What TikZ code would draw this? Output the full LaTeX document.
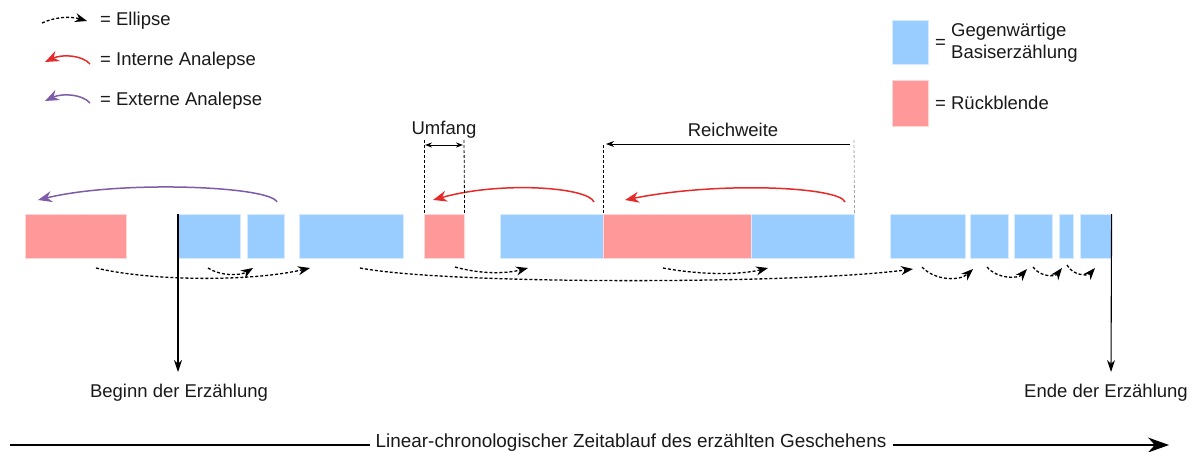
\documentclass[tikz,border=0pt]{standalone}
\usepackage{fontspec}
\setmainfont{Liberation Sans}
\usetikzlibrary{arrows.meta}
\definecolor{barblue}{HTML}{99CCFF}
\definecolor{barred}{HTML}{FF9999}
\definecolor{arrred}{HTML}{E62A2A}
\definecolor{arrpurple}{HTML}{7E5CA8}
\begin{document}
\begin{tikzpicture}[x=1pt,y=-1pt,
  every node/.style={font=\fontsize{18.5}{22}\selectfont, text=black!90},
  bar/.style={rectangle, inner sep=0pt, minimum height=44pt, anchor=north west, draw=white!70!barblue, line width=0.6pt},
  bluebar/.style={bar, fill=barblue, draw=white!60!barblue},
  redbar/.style={bar, fill=barred, draw=white!60!barred},
  ell/.style={densely dashed, line width=1.3pt, -{Stealth[length=12pt,width=9pt]}},
  intana/.style={arrred, line width=1.5pt, -{Stealth[length=14pt,width=11pt]}},
  extana/.style={arrpurple, line width=1.5pt, -{Stealth[length=14pt,width=11pt]}},
  guide/.style={densely dashed, line width=0.8pt},
  thinarrow/.style={line width=0.9pt, -{Stealth[length=8pt,width=6pt]}},
  lbl/.style={inner sep=0pt}
]
\useasboundingbox (0,0) rectangle (1200,452);

% ---------- legend ----------
\coordinate (le1s) at (42,23);  \coordinate (le1e) at (87,21);
\draw[ell] (le1s) .. controls (55,17) and (70,16) .. (le1e);
\node[lbl, anchor=west] (lt1) at (100,21) {= Ellipse};
\coordinate (le2s) at (90,64);  \coordinate (le2e) at (45,62);
\draw[intana] (le2s) .. controls (82,55) and (62,54) .. (le2e);
\node[lbl, anchor=west] (lt2) at (100,61) {= Interne Analepse};
\coordinate (le3s) at (90,103); \coordinate (le3e) at (45,101);
\draw[extana] (le3s) .. controls (82,94) and (62,93) .. (le3e);
\node[lbl, anchor=west] (lt3) at (100,101) {= Externe Analepse};

\node[bluebar, minimum width=36pt, minimum height=44pt] (lgb) at (892,20) {};
\node[lbl, anchor=west] (lgbeq) at (935,44) {=};
\node[lbl, anchor=west, align=left] (lgbt) at (951,43) {Gegenwärtige\\Basiserzählung};
\node[redbar, minimum width=36pt, minimum height=46pt] (lgr) at (892,80) {};
\node[lbl, anchor=west] (lgrt) at (935,103) {= Rückblende};

% ---------- bars ----------
\node[redbar,  minimum width=101pt] (r1) at (25,214) {};
\node[bluebar, minimum width=62pt]  (b1) at (178,214) {};
\node[bluebar, minimum width=37pt]  (b2) at (247,214) {};
\node[bluebar, minimum width=104pt] (b3) at (299,214) {};
\node[redbar,  minimum width=40pt]  (r2) at (424,214) {};
\node[bluebar, minimum width=103pt] (b4) at (500,214) {};
\node[redbar,  minimum width=148pt] (r3) at (603,214) {};
\node[bluebar, minimum width=103pt] (b5) at (751,214) {};
\node[bluebar, minimum width=75pt]  (b6) at (890,214) {};
\node[bluebar, minimum width=38pt]  (b7) at (970,214) {};
\node[bluebar, minimum width=38pt]  (b8) at (1014,214) {};
\node[bluebar, minimum width=14pt]  (b9) at (1059,214) {};
\node[bluebar, minimum width=31pt]  (b10) at (1080,214) {};

% ---------- analepses ----------
\coordinate (pa) at (277,202); \coordinate (pb) at (38,200);
\draw[extana] (pa) .. controls (270,186) and (120,180) .. (pb);
\coordinate (ra) at (594,202); \coordinate (rb) at (433,200);
\draw[intana] (ra) .. controls (588,187) and (500,181) .. (rb);
\coordinate (rc) at (845,202); \coordinate (rd) at (625,200);
\draw[intana] (rc) .. controls (840,187) and (720,181) .. (rd);

% ---------- Umfang / Reichweite ----------
\coordinate (u1) at (424,140); \coordinate (u2) at (464,140);
\draw[guide] (u1) -- (r2.north west);
\draw[guide] (u2) -- (r2.north east);
\coordinate (ua) at (425,145); \coordinate (ub) at (463,145);
\draw[line width=0.9pt, {Stealth[length=7pt,width=5pt]}-{Stealth[length=7pt,width=5pt]}] (ua) -- (ub);
\node[lbl] (umf) at (444,130) {Umfang};

\coordinate (w1) at (603,145); \coordinate (w2) at (854,140);
\draw[guide] (w1) -- (r3.north west);
\draw[guide, black!35] (w2) -- (b5.north east);
\coordinate (wa) at (850,144); \coordinate (wb) at (606,144);
\draw[thinarrow] (wa) -- (wb);
\node[lbl] (rw) at (733,130) {Reichweite};

% ---------- ellipses ----------
\coordinate (e1s) at (96,268);   \coordinate (e1e) at (310,268);
\draw[ell] (e1s) .. controls (150,281) and (250,282) .. (e1e);
\coordinate (e2s) at (208,268);  \coordinate (e2e) at (253,268);
\draw[ell] (e2s) .. controls (220,276) and (240,276) .. (e2e);
\coordinate (e3s) at (360,268);  \coordinate (e3e) at (913,269);
\draw[ell] (e3s) .. controls (450,285) and (800,284) .. (e3e);
\coordinate (e4s) at (455,267);  \coordinate (e4e) at (528,268);
\draw[ell] (e4s) .. controls (480,274) and (505,274) .. (e4e);
\coordinate (e5s) at (663,268);  \coordinate (e5e) at (768,268);
\draw[ell] (e5s) .. controls (700,275) and (740,275) .. (e5e);
\coordinate (e6s) at (922,267);  \coordinate (e6e) at (973,269);
\draw[ell] (e6s) .. controls (935,281) and (960,281) .. (e6e);
\coordinate (e7s) at (987,267);  \coordinate (e7e) at (1027,269);
\draw[ell] (e7s) .. controls (997,279) and (1018,279) .. (e7e);
\coordinate (e8s) at (1033,267); \coordinate (e8e) at (1062,268);
\draw[ell] (e8s) .. controls (1040,277) and (1055,277) .. (e8e);
\coordinate (e9s) at (1067,265); \coordinate (e9e) at (1095,268);
\draw[ell] (e9s) .. controls (1073,276) and (1088,276) .. (e9e);

% ---------- begin / end ----------
\node[lbl] (beg) at (179,393) {Beginn der Erzählung};
\node[lbl] (end) at (1106,393) {Ende der Erzählung};
\coordinate (begtip) at (178,372);
\coordinate (endtip) at (1111,372);
\draw[line width=1.1pt, -{Stealth[length=12pt,width=8pt]}] (b1.north west) -- (begtip);
\draw[line width=1.1pt, -{Stealth[length=12pt,width=8pt]}] (b10.north east) -- (endtip);

% ---------- time axis ----------
\node[lbl, font=\fontsize{18.9}{22}\selectfont] (axis) at (631,443) {Linear-chronologischer Zeitablauf des erzählten Geschehens};
\coordinate (axl) at (10,445);
\coordinate (axr) at (1169,445);
\draw[line width=1.1pt] (axl) -- ([xshift=-6pt]axis.west |- axl);
\draw[line width=1.1pt, -{Stealth[length=21pt,width=15pt]}] ([xshift=6pt]axis.east |- axr) -- (axr);
\end{tikzpicture}
\end{document}
